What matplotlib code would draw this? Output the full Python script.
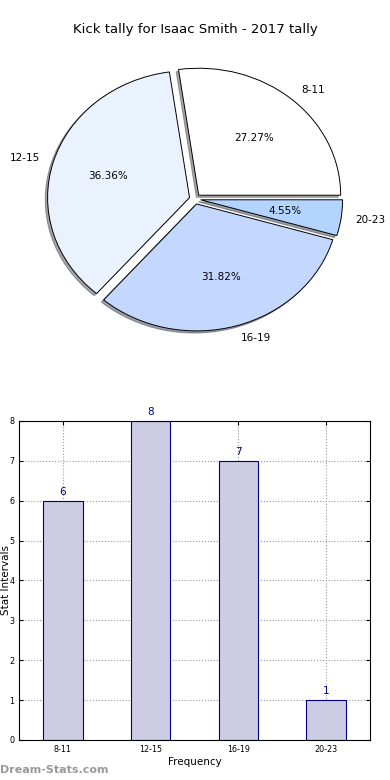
import numpy as np
import matplotlib.pyplot as plt

labels = ['8-11', '12-15', '16-19', '20-23']
counts = [6, 8, 7, 1]
pie_colors = ['#ffffff', '#eaf1ff', '#c4d8ff', '#b3d4ff']
title = 'Kick tally for Isaac Smith - 2017 tally'

fig = plt.figure(figsize=(3.9, 7.8), dpi=100)

# pie on top (not equal aspect, like the old chart)
ax1 = fig.add_axes([0.045, 0.5413, 0.91, 0.407])
ax1.pie(counts, labels=labels, colors=pie_colors, autopct='%1.2f%%',
        explode=[0.04] * 4, shadow={'ox': -0.012, 'oy': -0.012, 'shade': 0.7},
        startangle=0, counterclock=True,
        wedgeprops={'edgecolor': 'black', 'linewidth': 0.7},
        textprops={'fontsize': 7.5})
ax1.set_aspect('auto')
ax1.set_xlim(-1.25, 1.25)
ax1.set_ylim(-1.25, 1.25)
fig.text(0.5, 1 - 30 / 780, title, ha='center', va='center', fontsize=9.5)

# bars below
ax2 = fig.add_axes([0.0487, 0.0513, 0.9, 0.409])
x = np.arange(len(labels))
ax2.bar(x, counts, width=0.45, color='#ccccE5', edgecolor='navy', linewidth=0.8, zorder=2)
for xi, c in zip(x, counts):
    ax2.text(xi, c + 0.1, str(c), ha='center', va='bottom', color='navy', fontsize=7.5)
ax2.set_xlim(-0.5, 3.5)
ax2.set_ylim(0, 8)
ax2.set_xticks(x)
ax2.set_xticklabels(labels)
ax2.tick_params(labelsize=5.8, direction='in', top=True, right=True, length=3)
ax2.grid(True, linestyle=':', color='#999999', linewidth=0.8, zorder=0)
ax2.set_axisbelow(True)
ax2.set_xlabel('Frequency', fontsize=7.5, labelpad=2)
ax2.set_ylabel('Stat Intervals', fontsize=7.5)
ax2.yaxis.set_label_coords(-0.024, 0.5)

fig.text(0.0, 1 - 770 / 780, 'Dream-Stats.com', color='#999999', fontsize=8,
         fontweight='bold', ha='left', va='center')

plt.savefig('out.png', dpi=100)
